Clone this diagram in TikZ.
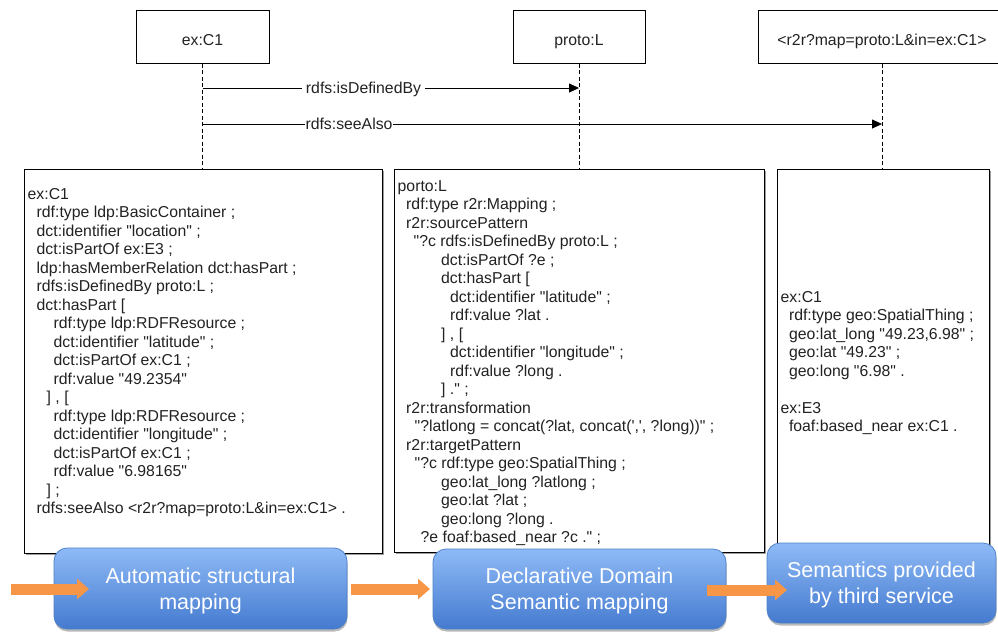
\documentclass[tikz,border=0pt]{standalone}
\usepackage{fontspec}
\newfontfamily\hv{Liberation Sans}
\usetikzlibrary{arrows.meta,shadows}
\definecolor{inkc}{HTML}{222222}
\definecolor{blueTop}{HTML}{8EBAF6}
\definecolor{blueBot}{HTML}{447ACF}
\definecolor{blueEdge}{HTML}{4F82C8}
\definecolor{flow}{HTML}{F79646}
\newcommand\indentby[1]{\hspace*{#1pt}}
\newcommand\firstline{\rule{0pt}{11.5pt}}
\newcommand\stagestrut{\rule{0pt}{19.7pt}}

\begin{document}
\begin{tikzpicture}[x=1pt,y=-1pt,
  every node/.style={font=\hv\fontsize{15.8}{18.5}\selectfont, text=inkc},
  head/.style={draw=black, line width=0.9pt, fill=white, minimum height=53pt,
    text height=18pt, text depth=1.4pt, inner sep=0pt},
  panel/.style={draw=black, line width=0.9pt, fill=white, anchor=north west,
    inner sep=0pt, drop shadow={shadow xshift=1.5pt, shadow yshift=-1.5pt,
    fill=black!55, opacity=0.7}},
  code/.style={anchor=north west, align=left, inner sep=0pt},
  lifeline/.style={draw=black, line width=0.8pt, dash pattern=on 4pt off 2.5pt},
  msg/.style={draw=black, line width=0.8pt, -{Triangle[length=10pt,width=9pt]}},
  lbl/.style={fill=white, anchor=base, inner ysep=2pt, yshift=-5.5pt},
  stage/.style={draw=blueEdge, line width=0.8pt, rounded corners=13pt,
    top color=blueTop, bottom color=blueBot, align=center, text=white,
    font=\hv\fontsize{21.5}{26}\selectfont, inner sep=0pt,
    drop shadow={shadow xshift=0.5pt, shadow yshift=-2.5pt, fill=black!60, opacity=0.45}},
  flowarrow/.style={draw=flow, line width=11pt,
    -{Triangle[length=12pt,width=20pt]}}
]
\useasboundingbox (0,0) rectangle (998,633);
\clip (0,0) rectangle (998,633);

% lifeline heads
\node[head, minimum width=133pt] (c1) at (202.5,36.7) {ex:C1};
\node[head, minimum width=132pt] (pl) at (579,36.7) {proto:L};
\node[head, minimum width=248pt] (map) at (882,36.7) {<r2r?map=proto:L\&in=ex:C1>};

% data panels
\node[panel, minimum width=358pt, minimum height=384pt] (pa) at (24,169) {};
\node[panel, minimum width=370pt, minimum height=383pt] (pb) at (394,169) {};
\node[panel, minimum width=212pt, minimum height=388pt] (pc) at (777,169) {};

% lifelines
\draw[lifeline] (c1.south) -- (c1.south |- pa.north);
\draw[lifeline] (pl.south) -- (pl.south |- pb.north);
\draw[lifeline] (map.south) -- (map.south |- pc.north);

% messages
\draw[msg] (c1 |- 0,88) -- node[lbl, pos=0.4276, inner xsep=4pt] {rdfs:isDefinedBy} (pl |- 0,88);
\draw[msg] (c1 |- 0,124) -- node[lbl, pos=0.2156, inner xsep=0.5pt] {rdfs:seeAlso} (map |- 0,124);

% panel contents
\node[code] (ta) at (27.5,187.5) {\firstline ex:C1\\
\indentby{9}rdf:type ldp:BasicContainer ;\\
\indentby{9}dct:identifier "location" ;\\
\indentby{9}dct:isPartOf ex:E3 ;\\
\indentby{9}ldp:hasMemberRelation dct:hasPart ;\\
\indentby{9}rdfs:isDefinedBy proto:L ;\\
\indentby{9}dct:hasPart [\\
\indentby{26}rdf:type ldp:RDFResource ;\\
\indentby{26}dct:identifier "latitude" ;\\
\indentby{26}dct:isPartOf ex:C1 ;\\
\indentby{26}rdf:value "49.2354"\\
\indentby{19}] , [\\
\indentby{26}rdf:type ldp:RDFResource ;\\
\indentby{26}dct:identifier "longitude" ;\\
\indentby{26}dct:isPartOf ex:C1 ;\\
\indentby{26}rdf:value "6.98165"\\
\indentby{19}] ;\\
\indentby{9}rdfs:seeAlso <r2r?map=proto:L\&in=ex:C1> .};

\node[code] (tb) at (397.5,179.5) {\firstline porto:L\\
\indentby{8.5}rdf:type r2r:Mapping ;\\
\indentby{8.5}r2r:sourcePattern\\
\indentby{16}"?c rdfs:isDefinedBy proto:L ;\\
\indentby{43.5}dct:isPartOf ?e ;\\
\indentby{43.5}dct:hasPart [\\
\indentby{52.5}dct:identifier "latitude" ;\\
\indentby{52.5}rdf:value ?lat .\\
\indentby{43.5}] , [\\
\indentby{52.5}dct:identifier "longitude" ;\\
\indentby{52.5}rdf:value ?long .\\
\indentby{43.5}] ." ;\\
\indentby{8.5}r2r:transformation\\
\indentby{17}"?latlong = concat(?lat, concat(',', ?long))" ;\\
\indentby{8.5}r2r:targetPattern\\
\indentby{17}"?c rdf:type geo:SpatialThing ;\\
\indentby{43.5}geo:lat\_long ?latlong ;\\
\indentby{43.5}geo:lat ?lat ;\\
\indentby{43.5}geo:long ?long .\\
\indentby{23}?e foaf:based\_near ?c ." ;};

\node[code] (tc) at (780.5,290.5) {\firstline ex:C1\\
\indentby{8.3}rdf:type geo:SpatialThing ;\\
\indentby{8.3}geo:lat\_long "49.23,6.98" ;\\
\indentby{8.3}geo:lat "49.23" ;\\
\indentby{8.3}geo:long "6.98" .\\[18.5pt]
ex:E3\\
\indentby{8.3}foaf:based\_near ex:C1 .};

% processing stages
\node[stage, minimum width=293pt, minimum height=81pt] (s1) at (200.5,588.5) {\stagestrut Automatic structural\\mapping};
\node[stage, minimum width=293pt, minimum height=80pt] (s2) at (579.5,589) {\stagestrut Declarative Domain\\Semantic mapping};
\node[stage, minimum width=229pt, minimum height=80pt] (s3) at (881.5,583) {\stagestrut Semantics provided\\by third service};

% flow arrows
\coordinate (in1) at (11,589);
\coordinate (in1e) at (89,589);
\coordinate (f2s) at (351,589);
\coordinate (f2e) at (430,589);
\coordinate (f3s) at (707,590);
\coordinate (f3e) at (787,590);
\draw[flowarrow] (in1) -- (in1e);
\draw[flowarrow] (f2s) -- (f2e);
\draw[flowarrow] (f3s) -- (f3e);
\end{tikzpicture}
\end{document}
